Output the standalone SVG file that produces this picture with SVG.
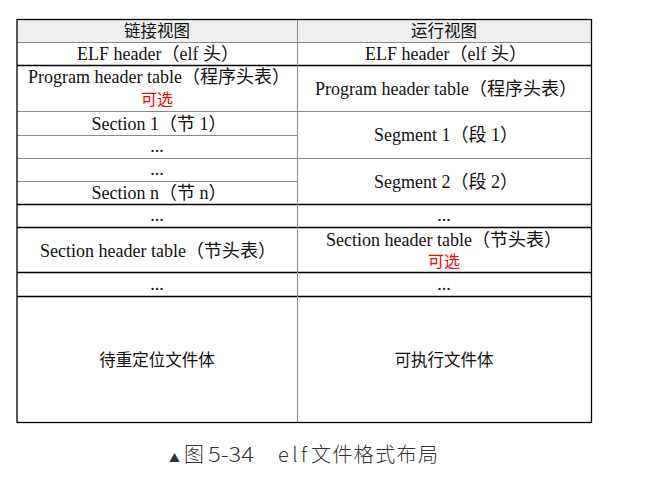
<svg xmlns="http://www.w3.org/2000/svg" width="649" height="478" viewBox="0 0 649 478">
<style>
.t{font-family:"Liberation Serif","Noto Sans CJK SC",serif;font-size:18px;fill:#111;text-anchor:middle}
.c{font-family:"Noto Sans CJK SC",sans-serif;font-size:16.5px;fill:#111;text-anchor:middle}
.r{font-family:"Noto Sans CJK SC",sans-serif;font-size:16px;fill:#f00;text-anchor:middle}
.g{stroke:#888;stroke-width:1;fill:none}
.k{stroke:#000;stroke-width:1.3;fill:none}
.cap{font-family:"Noto Sans CJK SC",sans-serif;font-size:20px;font-weight:300;fill:#333}
</style>
<rect width="649" height="478" fill="#fff"/>
<g id="header">
<rect x="17" y="19.5" width="574.5" height="23" fill="#eeeeee"/>
<text class="c" x="157" y="37">链接视图</text>
<text class="c" x="444" y="37">运行视图</text>
</g>
<g id="lines">
<line class="g" x1="17" y1="42.5" x2="591.5" y2="42.5"/>
<line class="k" x1="17" y1="65.5" x2="591.5" y2="65.5"/>
<line class="g" x1="17" y1="111.5" x2="591.5" y2="111.5"/>
<line class="g" x1="17" y1="135.5" x2="297.5" y2="135.5"/>
<line class="g" x1="17" y1="158.5" x2="591.5" y2="158.5"/>
<line class="g" x1="17" y1="181.5" x2="297.5" y2="181.5"/>
<line class="k" x1="17" y1="204.5" x2="591.5" y2="204.5"/>
<line class="k" x1="17" y1="227.5" x2="591.5" y2="227.5"/>
<line class="k" x1="17" y1="272.5" x2="591.5" y2="272.5"/>
<line class="k" x1="17" y1="296.5" x2="591.5" y2="296.5"/>
<line class="g" x1="297.5" y1="19.5" x2="297.5" y2="422.5"/>
<rect class="k" x="17" y="19.5" width="574.5" height="403"/>
</g>
<g id="left">
<text class="t" x="158" y="60">ELF header（elf 头）</text>
<text class="t" x="159" y="83">Program header table（程序头表）</text>
<text class="r" x="157" y="105">可选</text>
<text class="t" x="159" y="130">Section 1（节 1）</text>
<text class="t" x="157" y="152">...</text>
<text class="t" x="157" y="175">...</text>
<text class="t" x="159" y="199">Section n（节 n）</text>
<text class="t" x="157" y="221">...</text>
<text class="t" x="158" y="257">Section header table（节头表）</text>
<text class="t" x="157" y="290">...</text>
<text class="c" x="157" y="366">待重定位文件体</text>
</g>
<g id="right">
<text class="t" x="446" y="60">ELF header（elf 头）</text>
<text class="t" x="446" y="95">Program header table（程序头表）</text>
<text class="t" x="446" y="141">Segment 1（段 1）</text>
<text class="t" x="446" y="188">Segment 2（段 2）</text>
<text class="t" x="444" y="221">...</text>
<text class="t" x="444" y="246">Section header table（节头表）</text>
<text class="r" x="444" y="267">可选</text>
<text class="t" x="444" y="290">...</text>
<text class="c" x="444" y="366">可执行文件体</text>
</g>
<g id="caption">
<text class="cap" y="462"><tspan x="169" style="font-size:11px">▲</tspan><tspan x="184">图</tspan><tspan x="208" textLength="46" lengthAdjust="spacingAndGlyphs">5-34</tspan><tspan x="278" textLength="29">elf</tspan><tspan x="311" textLength="127">文件格式布局</tspan></text>
</g>
</svg>
